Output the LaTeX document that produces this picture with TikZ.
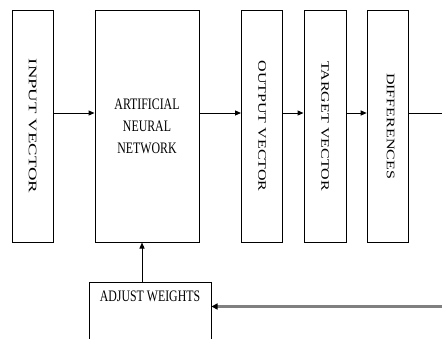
\documentclass[tikz,border=0pt]{standalone}
\usepackage{fontspec}
\setmainfont{Liberation Serif}
\usetikzlibrary{arrows.meta}
\newcommand\hsx[1]{\scalebox{0.74}[1]{#1}}
\newcommand\vsx[2][1]{\rotatebox{-90}{\scalebox{#1}[0.72]{#2}}}
\tikzset{
  blk/.style={draw=black, line width=1pt, inner sep=0pt, minimum width=41pt, minimum height=232pt, font=\fontsize{16}{22}\selectfont, align=center},
  flow/.style={draw=black, line width=1pt, -{Triangle[length=6pt,width=5pt]}},
  fback/.style={draw=black!50, line width=2.5pt, -{Triangle[length=6pt,width=6pt,color=black]}}
}
\begin{document}
\begin{tikzpicture}[x=1pt,y=-1pt]
\useasboundingbox (0,0) rectangle (442,338);
\node[blk] (input) at (32.5,126) {\vsx[1.17]{INPUT VECTOR}};
\node[blk, minimum width=104pt] (ann) at (147,126) {\hsx{ARTIFICIAL}\\[-0pt]\hsx{NEURAL}\\\hsx{NETWORK}};
\node[blk] (output) at (262,126) {\vsx{OUTPUT VECTOR}};
\node[blk, minimum width=42pt] (target) at (325,126) {\vsx{TARGET VECTOR}};
\node[blk] (diff) at (387.7,126) {\hspace{6pt}\vsx{DIFFERENCES}};
\node[blk, minimum width=122pt, minimum height=68pt,
  label={[anchor=north, yshift=-6pt, font=\fontsize{16}{22}\selectfont]north:\hsx{ADJUST WEIGHTS}}] (adjust) at (150,316) {};
\coordinate (row) at (0,113);
\coordinate (col) at (142,0);
\coordinate (outr) at (446,113);
\coordinate (fb) at (446,306.5);
\draw[flow] (input.east |- row) -- (ann.west |- row);
\draw[flow] (ann.east |- row) -- (output.west |- row);
\draw[flow] (output.east |- row) -- (target.west |- row);
\draw[flow] (target.east |- row) -- (diff.west |- row);
\draw[draw=black, line width=1pt] (diff.east |- row) -- (outr);
\draw[flow] (adjust.north -| col) -- (ann.south -| col);
\draw[fback] (fb) -- (fb -| adjust.east);
\end{tikzpicture}
\end{document}
